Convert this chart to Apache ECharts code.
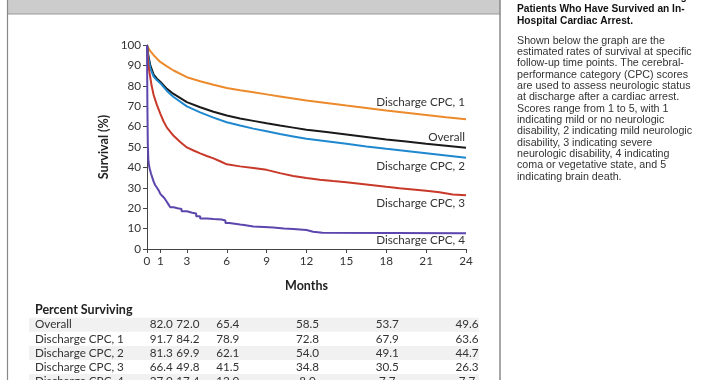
<!DOCTYPE html>
<html><head><meta charset="utf-8">
<script src="https://cdn.jsdelivr.net/npm/echarts@6/dist/echarts.min.js"></script>
<style>html,body{margin:0;padding:0;background:#fff;overflow:hidden}#c{width:720px;height:380px}</style>
</head><body><div id="c"></div>
<script>
// ---- data ----
const xTicks = [0, 1, 3, 6, 9, 12, 15, 18, 21, 24];
const seriesNames = ['Discharge CPC, 1', 'Overall', 'Discharge CPC, 2', 'Discharge CPC, 3', 'Discharge CPC, 4'];

const overallT = [0, 0.1, 0.25, 0.5, 0.75, 1, 1.5, 2, 3, 4, 5, 6, 7, 8, 9, 10, 11, 12, 13.5, 15, 16.5, 18, 19.5, 21, 22.5, 24];
const overallS = [100, 95, 90, 85.5, 83.5, 82.0, 78.5, 76, 72.0, 69.5, 67.3, 65.4, 64, 62.8, 61.6, 60.5, 59.5, 58.5, 57.3, 56.1, 54.9, 53.7, 52.7, 51.6, 50.6, 49.6];

const cpc1T = [0, 0.1, 0.25, 0.5, 0.75, 1, 1.5, 2, 3, 4, 5, 6, 7, 8, 9, 10, 11, 12, 13.5, 15, 16.5, 18, 19.5, 21, 22.5, 24];
const cpc1S = [100, 98.5, 97, 95, 93.3, 91.7, 89.5, 87.5, 84.2, 82.2, 80.5, 78.9, 77.8, 76.8, 75.8, 74.8, 73.8, 72.8, 71.6, 70.3, 69.1, 67.9, 66.8, 65.7, 64.6, 63.6];

const cpc2T = [0, 0.1, 0.25, 0.5, 0.75, 1, 1.5, 2, 3, 4, 5, 6, 7, 8, 9, 10, 11, 12, 13.5, 15, 16.5, 18, 19.5, 21, 22.5, 24];
const cpc2S = [100, 94, 88.5, 84.5, 82.7, 81.3, 77.5, 74.5, 69.9, 67, 64.4, 62.1, 60.5, 59, 57.7, 56.4, 55.2, 54.0, 52.8, 51.6, 50.3, 49.1, 48, 46.9, 45.8, 44.7];

const cpc3T = [0, 0.05, 0.1, 0.2, 0.35, 0.5, 0.75, 1, 1.25, 1.5, 2, 2.5, 3, 3.5, 4, 4.5, 5, 5.5, 6, 7, 8, 9, 10, 11, 12, 13, 14, 15, 16, 17, 18, 19, 20, 21, 22, 23, 24];
const cpc3S = [100, 95, 90, 86, 80, 75.5, 70.5, 66.4, 62.5, 59.5, 55.5, 52.5, 49.8, 48.3, 46.9, 45.6, 44.4, 43.0, 41.5, 40.5, 39.7, 38.8, 37.2, 35.8, 34.8, 34.0, 33.3, 32.7, 32.0, 31.3, 30.5, 29.8, 29.2, 28.6, 27.8, 26.7, 26.3];

const cpc4T = [0, 0.03, 0.06, 0.1, 0.15, 0.2, 0.3, 0.4, 0.5, 0.6, 0.75, 0.9, 1, 1.15, 1.3, 1.45, 1.6, 1.75, 2.0, 2.3, 2.6, 3.0, 3.4, 3.7, 4.0, 4.5, 5.0, 5.6, 5.9, 6.2, 7.0, 7.3, 8.0, 8.8, 9.5, 10.3, 11.0, 12.0, 12.5, 13.2, 24];
const cpc4S = [100, 70, 52, 44, 41, 39.5, 37, 35, 33, 31.5, 30, 28.5, 27.0, 26, 25, 23.5, 22, 20.5, 20, 19.6, 18.5, 17.8, 17.4, 16, 15, 14.7, 14.5, 14.0, 12.8, 12.0, 11.8, 11, 10.8, 10.5, 10.0, 9.8, 9.3, 8.5, 8.0, 7.7, 7.7];

const tableMonths = [1, 3, 6, 12, 18, 24];
const tableRows = ['Overall', 'Discharge CPC, 1', 'Discharge CPC, 2', 'Discharge CPC, 3', 'Discharge CPC, 4'];
const tableOverall = ['82.0', '72.0', '65.4', '58.5', '53.7', '49.6'];
const tableCpc1 = ['91.7', '84.2', '78.9', '72.8', '67.9', '63.6'];
const tableCpc2 = ['81.3', '69.9', '62.1', '54.0', '49.1', '44.7'];
const tableCpc3 = ['66.4', '49.8', '41.5', '34.8', '30.5', '26.3'];
const tableCpc4 = ['27.0', '17.4', '12.0', '8.0', '7.7', '7.7'];

const headingLines = ['Rates of Survival over Time among', 'Patients Who Have Survived an In-', 'Hospital Cardiac Arrest.'];
const noteLines = [
  'Shown below the graph are the',
  'estimated rates of survival at specific',
  'follow-up time points. The cerebral-',
  'performance category (CPC) scores',
  'are used to assess neurologic status',
  'at discharge after a cardiac arrest.',
  'Scores range from 1 to 5, with 1',
  'indicating mild or no neurologic',
  'disability, 2 indicating mild neurologic',
  'disability, 3 indicating severe',
  'neurologic disability, 4 indicating',
  'coma or vegetative state, and 5',
  'indicating brain death.'
];

// ---- build ----
const zip = (t, s) => t.map((v, i) => [v, s[i]]);
const FONT = 'Lato';
const TXT = '#333';
const colors = ['#ec8a2c', '#1a1a1a', '#1f88cf', '#c8392a', '#5c45ad'];
const allData = [zip(cpc1T, cpc1S), zip(overallT, overallS), zip(cpc2T, cpc2S), zip(cpc3T, cpc3S), zip(cpc4T, cpc4S)];
const steps = [false, false, false, false, 'end'];

const chart = echarts.init(document.getElementById('c'), null, { renderer: 'canvas' });
const option = {
  animation: false,
  backgroundColor: '#fff',
  grid: { left: 147, top: 45, width: 319, height: 204, containLabel: false },
  xAxis: {
    type: 'value', min: 0, max: 24,
    name: 'Months', nameLocation: 'middle', nameGap: 30,
    nameTextStyle: { fontFamily: FONT, fontWeight: 'bold', fontSize: 12.5, color: '#222' },
    axisLine: { show: true, lineStyle: { color: '#444', width: 1 } },
    axisTick: { show: true, length: 4, customValues: xTicks, lineStyle: { color: '#444' } },
    axisLabel: { customValues: xTicks, fontFamily: FONT, fontSize: 11.7, color: TXT, margin: 6 },
    splitLine: { show: false }
  },
  yAxis: {
    type: 'value', min: 0, max: 100, interval: 10,
    name: 'Survival (%)', nameLocation: 'middle', nameGap: 37, nameRotate: 90,
    nameTextStyle: { fontFamily: FONT, fontWeight: 'bold', fontSize: 12.5, color: '#222' },
    axisLine: { show: true, lineStyle: { color: '#444', width: 1 } },
    axisTick: { show: true, length: 4, lineStyle: { color: '#444' } },
    axisLabel: { fontFamily: FONT, fontSize: 11.7, color: TXT, margin: 6 },
    splitLine: { show: false }
  },
  series: seriesNames.map((n, i) => ({
    name: n, type: 'line', data: allData[i], step: steps[i],
    showSymbol: false, symbol: 'none', silent: true,
    lineStyle: { color: colors[i], width: 2 }, z: 2 + i
  }))
};
chart.setOption(option);

const P = (x, y) => chart.convertToPixel({ gridIndex: 0 }, [x, y]);
const g = [];
// frame
g.push({ type: 'rect', shape: { x: 7, y: 0, width: 493, height: 14 }, style: { fill: '#cccccc' }, z: 0 });
g.push({ type: 'line', shape: { x1: 7, y1: 14, x2: 500, y2: 14 }, style: { stroke: '#999', lineWidth: 1.2 } });
g.push({ type: 'line', shape: { x1: 7.5, y1: 0, x2: 7.5, y2: 380 }, style: { stroke: '#888', lineWidth: 1.2 } });
g.push({ type: 'line', shape: { x1: 500, y1: 0, x2: 500, y2: 380 }, style: { stroke: '#888', lineWidth: 1.5 } });
// right note
headingLines.forEach((t, i) => g.push({ type: 'text', x: 517, y: -2.7 + 12 * i,
  style: { text: t, font: 'bold 10.2px "Liberation Sans", Arial', fill: '#111', verticalAlign: 'middle' } }));
noteLines.forEach((t, i) => g.push({ type: 'text', x: 517, y: 40.7 + 11.33 * i,
  style: { text: t, font: '10.7px "Liberation Sans", Arial', fill: '#333', verticalAlign: 'middle' } }));
// curve labels
const labelDy = [-17.5, -10.7, 8.7, 7.7, 7.4];
seriesNames.forEach((n, i) => {
  const d = allData[i][allData[i].length - 1];
  const p = P(d[0], d[1]);
  g.push({ type: 'text', x: p[0] - 1, y: p[1] + labelDy[i],
    style: { text: n, font: '11.7px ' + FONT, fill: TXT, align: 'right', verticalAlign: 'middle' } });
});
// table
g.push({ type: 'text', x: 35, y: 310, style: { text: 'Percent Surviving', font: 'bold 12.5px ' + FONT, fill: '#222', verticalAlign: 'middle' } });
const tableVals = [tableOverall, tableCpc1, tableCpc2, tableCpc3, tableCpc4];
tableRows.forEach((r, i) => {
  const y = 324.7 + 14.1 * i;
  if (i % 2 === 0) g.push({ type: 'rect', shape: { x: 29, y: y - 7, width: 450, height: 14 }, style: { fill: '#f1f1f1' }, z: 0 });
  g.push({ type: 'text', x: 35, y: y, style: { text: r, font: '11.7px ' + FONT, fill: TXT, verticalAlign: 'middle' }, z: 1 });
  tableVals[i].forEach((v, j) => {
    const px = P(tableMonths[j], 0)[0];
    g.push({ type: 'text', x: px + 1, y: y, style: { text: v, font: '11.7px ' + FONT, fill: TXT, align: 'center', verticalAlign: 'middle' }, z: 1 });
  });
});
chart.setOption({ graphic: { elements: g } });
</script></body></html>
